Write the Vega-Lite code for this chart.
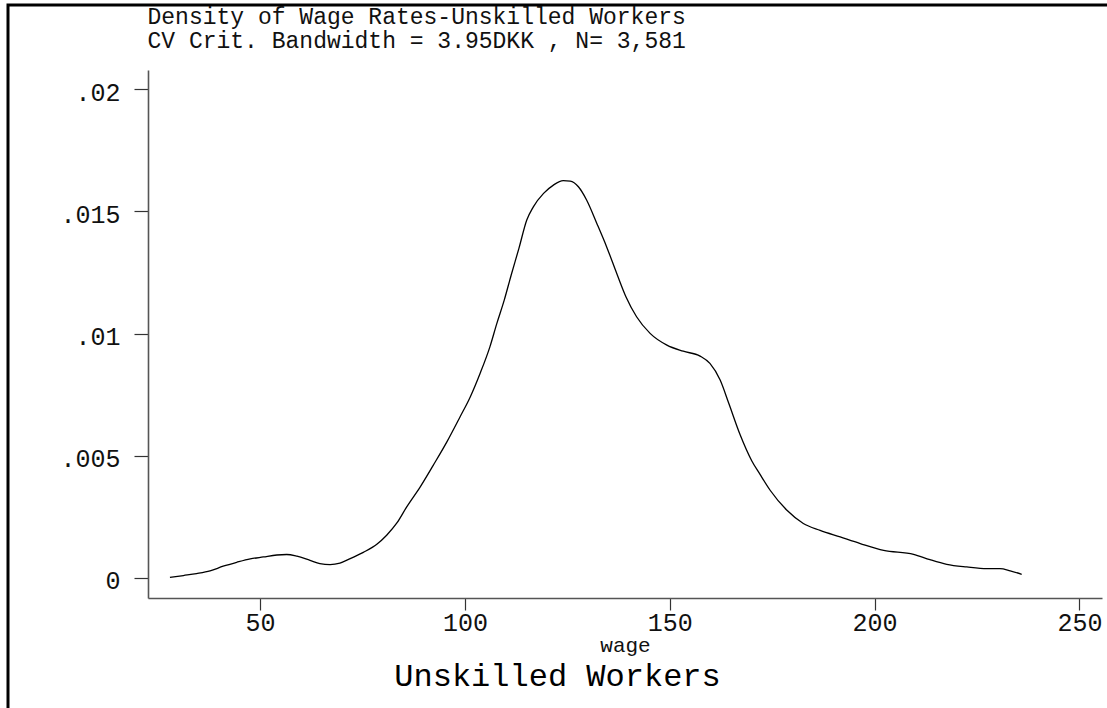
{
  "$schema": "https://vega.github.io/schema/vega-lite/v6.json",
  "autosize": {"type": "none"},
  "padding": {"left": 8, "top": 5, "right": 0, "bottom": 0},
  "width": 1099,
  "height": 703,
  "background": "white",
  "view": {"stroke": "black", "strokeWidth": 3, "strokeDash": [1099, 1802, 703], "fill": "white"},
  "title": {
    "text": "Unskilled Workers",
    "orient": "bottom",
    "anchor": "middle",
    "frame": "group",
    "offset": -22,
    "baseline": "alphabetic",
    "font": "Liberation Mono",
    "fontSize": 32,
    "fontWeight": "normal",
    "color": "black"
  },
  "data": {
    "values": [
      {"wage": 28.0, "density": 0.00002},
      {"wage": 31.3, "density": 0.0001},
      {"wage": 34.5, "density": 0.00018},
      {"wage": 37.8, "density": 0.00029},
      {"wage": 41.0, "density": 0.00048},
      {"wage": 44.3, "density": 0.00064},
      {"wage": 47.6, "density": 0.00078},
      {"wage": 50.8, "density": 0.00086},
      {"wage": 54.1, "density": 0.00094},
      {"wage": 56.5, "density": 0.00096},
      {"wage": 59.0, "density": 0.00089},
      {"wage": 62.2, "density": 0.00072},
      {"wage": 64.6, "density": 0.00059},
      {"wage": 67.1, "density": 0.00055},
      {"wage": 69.5, "density": 0.00061},
      {"wage": 72.0, "density": 0.00079},
      {"wage": 75.2, "density": 0.00105},
      {"wage": 78.5, "density": 0.00138},
      {"wage": 80.9, "density": 0.00175},
      {"wage": 83.4, "density": 0.00225},
      {"wage": 85.8, "density": 0.00291},
      {"wage": 89.1, "density": 0.00373},
      {"wage": 92.3, "density": 0.00462},
      {"wage": 95.6, "density": 0.00557},
      {"wage": 98.8, "density": 0.00659},
      {"wage": 101.3, "density": 0.00741},
      {"wage": 103.7, "density": 0.00837},
      {"wage": 106.1, "density": 0.00946},
      {"wage": 107.8, "density": 0.01042},
      {"wage": 109.6, "density": 0.01137},
      {"wage": 111.3, "density": 0.0124},
      {"wage": 113.2, "density": 0.0135},
      {"wage": 115.1, "density": 0.01465},
      {"wage": 116.7, "density": 0.01519},
      {"wage": 119.2, "density": 0.01574},
      {"wage": 121.6, "density": 0.01608},
      {"wage": 124.0, "density": 0.01626},
      {"wage": 125.7, "density": 0.01624},
      {"wage": 127.7, "density": 0.01601},
      {"wage": 129.7, "density": 0.01547},
      {"wage": 132.2, "density": 0.01451},
      {"wage": 134.6, "density": 0.01355},
      {"wage": 137.2, "density": 0.0124},
      {"wage": 139.3, "density": 0.01151},
      {"wage": 141.9, "density": 0.01069},
      {"wage": 145.2, "density": 0.01001},
      {"wage": 149.3, "density": 0.00953},
      {"wage": 153.3, "density": 0.00928},
      {"wage": 157.4, "density": 0.00908},
      {"wage": 159.8, "density": 0.00878},
      {"wage": 162.3, "density": 0.0081},
      {"wage": 164.4, "density": 0.00715},
      {"wage": 167.2, "density": 0.00585},
      {"wage": 170.0, "density": 0.0048},
      {"wage": 172.0, "density": 0.00425},
      {"wage": 174.5, "density": 0.00359},
      {"wage": 178.6, "density": 0.00277},
      {"wage": 182.6, "density": 0.00223},
      {"wage": 186.7, "density": 0.00195},
      {"wage": 191.6, "density": 0.00168},
      {"wage": 196.5, "density": 0.00141},
      {"wage": 202.2, "density": 0.00113},
      {"wage": 209.5, "density": 0.00097},
      {"wage": 213.5, "density": 0.00075},
      {"wage": 217.6, "density": 0.00056},
      {"wage": 222.5, "density": 0.00045},
      {"wage": 227.4, "density": 0.00038},
      {"wage": 230.6, "density": 0.00038},
      {"wage": 233.1, "density": 0.00029},
      {"wage": 235.9, "density": 0.00015}
    ]
  },
  "mark": {"type": "line", "interpolate": "monotone", "color": "black", "strokeWidth": 1.3},
  "encoding": {
    "x": {
      "field": "wage",
      "type": "quantitative",
      "scale": {"domain": [22.65, 255.5], "range": [140, 1094], "nice": false, "zero": false},
      "axis": {
        "title": "wage",
        "values": [50, 100, 150, 200, 250],
        "offset": -110,
        "grid": false,
        "tickSize": 12,
        "labelPadding": 0,
        "labelFlush": false,
        "labelOverlap": false,
        "labelBound": false,
        "titleY": 53,
        "titleBaseline": "alphabetic",
        "titleFontSize": 21
      }
    },
    "y": {
      "field": "density",
      "type": "quantitative",
      "scale": {"domain": [-0.00082, 0.02079], "range": [593, 65], "nice": false, "zero": false},
      "axis": {
        "title": ["Density of Wage Rates-Unskilled Workers", "CV Crit. Bandwidth = 3.95DKK , N= 3,581"],
        "values": [0, 0.005, 0.01, 0.015, 0.02],
        "labelExpr": "datum.value == 0 ? '0' : substring(format(datum.value, '~g'), 1)",
        "offset": -140,
        "grid": false,
        "tickSize": 14,
        "labelPadding": 14,
        "labelOffset": 3,
        "labelFlush": false,
        "labelOverlap": false,
        "labelBound": false,
        "titleAngle": 0,
        "titleAlign": "left",
        "titleBaseline": "alphabetic",
        "titleX": -1,
        "titleY": 18.5,
        "titleLineHeight": 24,
        "titleFontSize": 23
      }
    }
  },
  "config": {
    "axis": {
      "labelFont": "Liberation Mono",
      "labelFontSize": 25,
      "labelColor": "#111111",
      "titleFont": "Liberation Mono",
      "titleFontWeight": "normal",
      "titleColor": "#111111",
      "domainColor": "#555555",
      "domainWidth": 1.6,
      "tickColor": "#333333",
      "tickWidth": 1.2
    }
  }
}
